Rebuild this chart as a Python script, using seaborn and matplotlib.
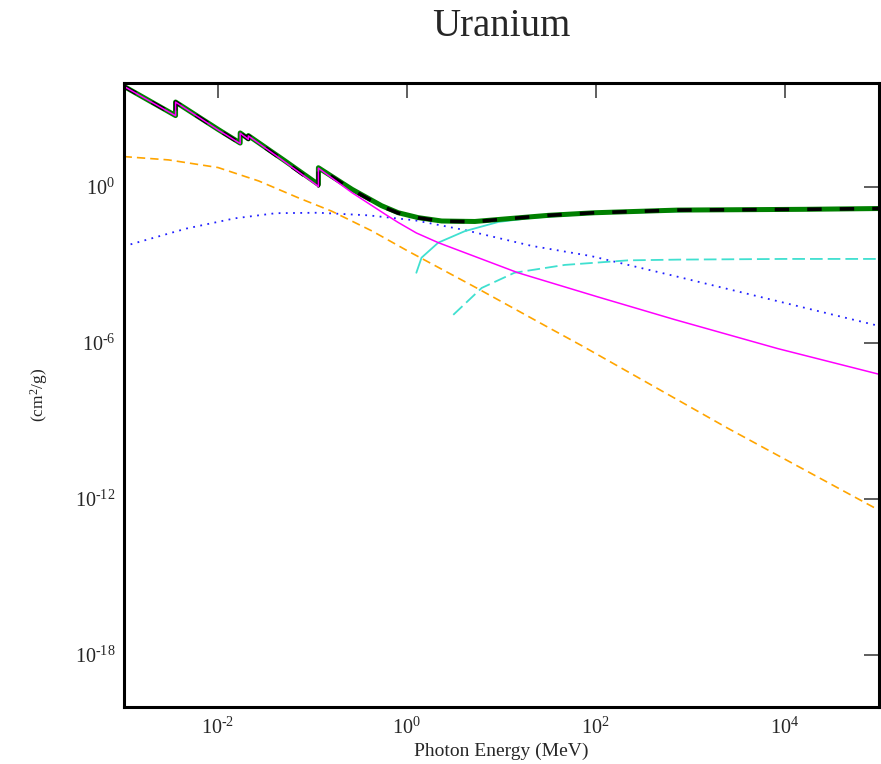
import matplotlib
matplotlib.use('Agg')
import numpy as np
import pandas as pd
import matplotlib.pyplot as plt
from matplotlib.ticker import FuncFormatter
import seaborn as sns

# photon energies (MeV) and cross sections (cm2/g)
tot_e = [1e-3, 2e-3, 3.55e-3, 3.55e-3, 1e-2, 17.17e-3, 17.17e-3, 20.95e-3, 20.95e-3,
         5e-2, 0.1156, 0.1156, 0.263, 0.54, 0.81, 1.32, 2.34, 5.25, 11.7, 31.6,
         98, 740, 16000, 1e5]
tot_coh = [7600, 1820, 560, 1860, 165, 49, 120, 71, 95,
           10.7, 1.25, 5.5, 0.81, 0.19, 0.102, 0.066, 0.049, 0.047, 0.060, 0.081,
           0.102, 0.129, 0.138, 0.148]
tot_nocoh = [7585, 1808, 553, 1853, 161, 47.5, 118.5, 69.5, 93.5,
             10.0, 1.1, 5.35, 0.78, 0.18, 0.099, 0.065, 0.048, 0.046, 0.060, 0.081,
             0.102, 0.129, 0.138, 0.148]

photo_e = [1e-3, 2e-3, 3.55e-3, 3.55e-3, 1e-2, 17.17e-3, 17.17e-3, 20.95e-3, 20.95e-3,
           5e-2, 0.1156, 0.1156, 0.263, 0.59, 0.81, 1.26, 2.15, 15, 105, 684, 8500, 1e5]
photo = [7570, 1800, 550, 1850, 158, 46.5, 117, 68.5, 92.5,
         9.7, 1.05, 5.3, 0.60, 0.089, 0.043, 0.017, 7.2e-3, 5.0e-4, 5.9e-5, 7.9e-6,
         6.0e-7, 6.2e-8]

coh_e = [1e-3, 3e-3, 1e-2, 2.7e-2, 7e-2, 0.16, 0.43, 1.0, 5.7, 32, 73, 2500, 85000, 1e5]
coh = [14.8, 11.0, 5.6, 1.7, 0.39, 0.117, 0.020, 3.6e-3, 1.2e-4, 3.8e-6, 7.4e-7,
       5.2e-10, 5.0e-13, 3.6e-13]

inc_e = [1e-3, 4.6e-3, 0.015, 0.041, 0.115, 0.39, 1.22, 4.1, 21, 89, 740, 81000, 1e5]
inc = [5.2e-3, 0.025, 0.062, 0.098, 0.102, 0.081, 0.052, 0.022, 5.4e-3, 2.2e-3,
       3.5e-4, 5.4e-6, 4.5e-6]

pn_e = [1.26, 1.43, 2.15, 4.12, 9.3, 21, 105, 1000, 1e4, 1e5]
pn = [5.0e-4, 1.9e-3, 7.2e-3, 0.020, 0.045, 0.065, 0.097, 0.118, 0.13, 0.14]

pe_e = [3.1, 6.2, 13.8, 47, 220, 740, 1e4, 1e5]
pe = [1.2e-5, 1.3e-4, 5.0e-4, 1.0e-3, 1.5e-3, 1.6e-3, 1.7e-3, 1.7e-3]

x_ticks = [1e-2, 1, 1e2, 1e4]
y_ticks = [1e-18, 1e-12, 1e-6, 1]

sns.set_style('white')
plt.rcParams['font.family'] = ['Liberation Serif', 'DejaVu Serif']
plt.rcParams['mathtext.fontset'] = 'custom'
plt.rcParams['mathtext.rm'] = 'Liberation Serif'
plt.rcParams['mathtext.it'] = 'Liberation Serif:italic'
plt.rcParams['axes.unicode_minus'] = False

fig = plt.figure(figsize=(8.81, 7.64), dpi=100)
ax = fig.add_axes([0.1403, 0.0751, 0.8574, 0.8162])
ax.set_xscale('log')
ax.set_yscale('log')

series = [
    (coh_e, coh, '#FFA500', (0, (5, 3)), 1.2),
    (inc_e, inc, '#2020FF', (0, (1, 3)), 1.3),
    (pe_e, pe, '#40E0D0', (0, (7, 2.8)), 1.3),
    (pn_e, pn, '#40E0D0', '-', 1.3),
    (tot_e, tot_coh, '#008000', '-', 3.6),
    (tot_e, tot_nocoh, 'black', (0, (4, 5)), 2.6),
    (photo_e, photo, '#FF00FF', '-', 1.1),
]
for xs, ys, col, ls, lw in series:
    d = pd.DataFrame({'E': xs, 'mu': ys})
    sns.lineplot(data=d, x='E', y='mu', ax=ax, estimator=None, sort=False,
                 color=col, linestyle=ls, lw=lw)


def pow10(v, pos):
    p = int(round(np.log10(v)))
    return '10$^{\\text{%d}}$' % p


ax.set_xlim(1e-3, 1e5)
ax.set_ylim(1e-20, 1e4)
ax.set_xticks(x_ticks)
ax.set_yticks(y_ticks)
ax.xaxis.set_major_formatter(FuncFormatter(pow10))
ax.yaxis.set_major_formatter(FuncFormatter(pow10))
ax.minorticks_off()
ax.tick_params(which='major', direction='in', length=10.8, width=1.1, color='#333333',
               top=True, right=True, labelsize=14.5)
ax.tick_params(axis='x', pad=8)
ax.tick_params(axis='y', pad=6)
for s in ax.spines.values():
    s.set_linewidth(2.2)
    s.set_color('black')

ax.set_title('Uranium', fontsize=28, pad=34)
ax.set_xlabel('Photon Energy (MeV)', fontsize=14)
ax.set_ylabel('(cm$^\\mathregular{2}$/g)', fontsize=12.5)
ax.xaxis.set_label_coords(0.5, -0.058)
ax.yaxis.set_label_coords(-0.098, 0.5)

fig.savefig('out.png', dpi=100)
plt.close()
